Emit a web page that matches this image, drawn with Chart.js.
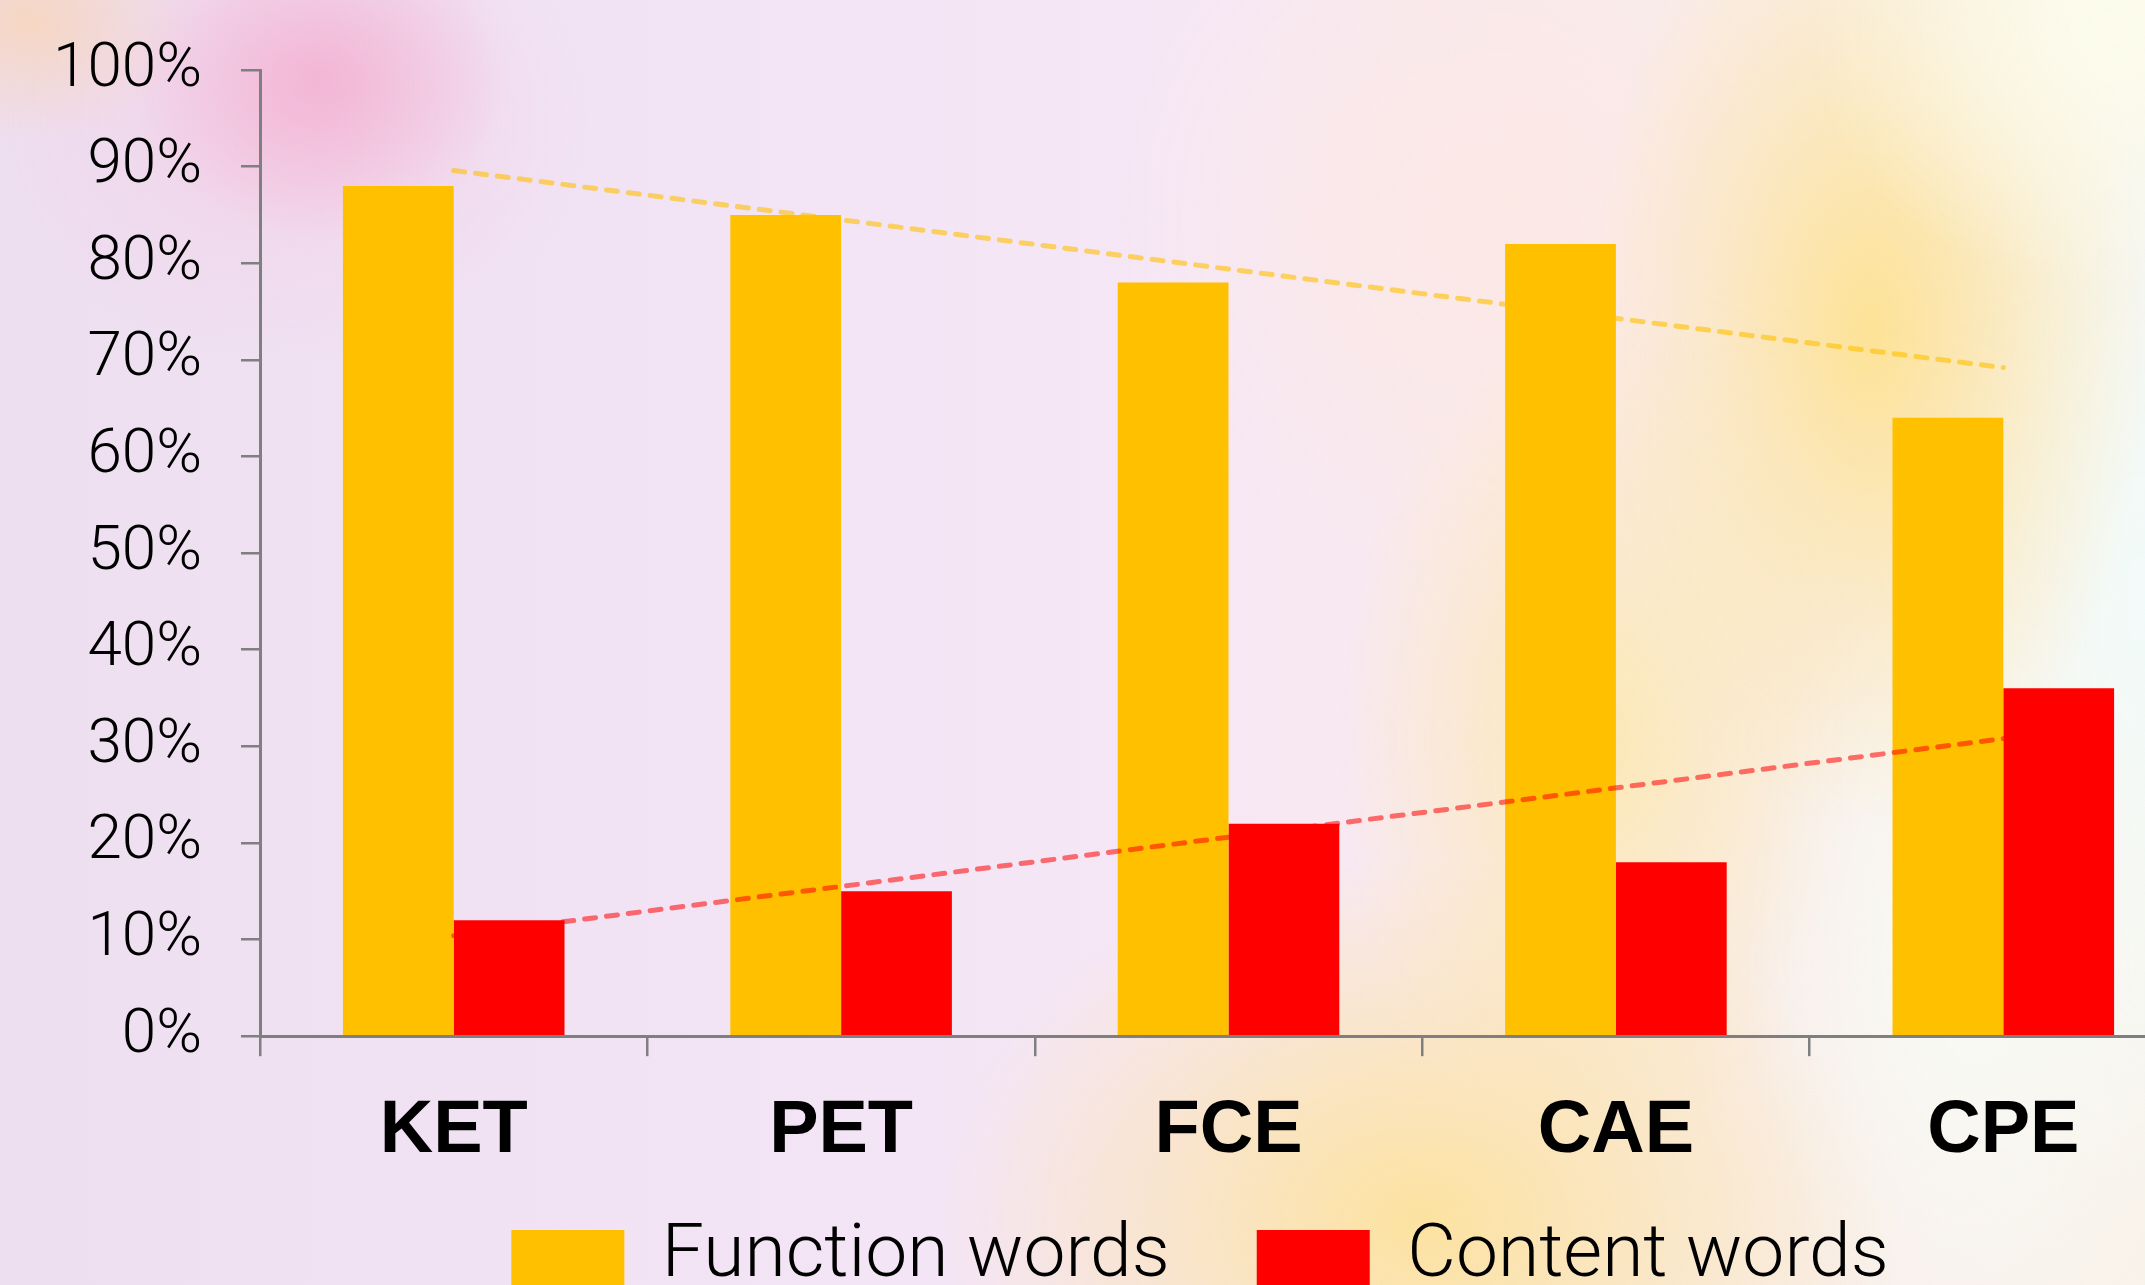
<!DOCTYPE html>
<html>
<head>
<meta charset="utf-8">
<script src="https://cdn.jsdelivr.net/npm/chart.js@4.4.0/dist/chart.umd.min.js"></script>
<style>
html, body { margin: 0; padding: 0; width: 2145px; height: 1285px; overflow: hidden; }
body {
  background:
    radial-gradient(ellipse 160px 120px at 30px 20px, rgba(246,214,192,0.95), rgba(246,214,192,0) 100%),
    radial-gradient(ellipse 190px 160px at 320px 80px, rgba(243,178,211,0.9), rgba(243,178,211,0) 100%),
    radial-gradient(ellipse 300px 240px at 290px 120px, rgba(245,200,225,0.55), rgba(245,200,225,0) 100%),
    radial-gradient(ellipse 300px 260px at 2110px 30px, rgba(252,252,236,1), rgba(252,252,236,0) 100%),
    radial-gradient(ellipse 280px 500px at 1870px 330px, rgba(253,226,150,1), rgba(253,226,150,0.35) 60%, rgba(253,226,150,0) 100%),
    radial-gradient(ellipse 230px 420px at 1975px 960px, rgba(248,251,246,1), rgba(248,251,246,0) 100%),
    radial-gradient(ellipse 480px 360px at 1420px 1220px, rgba(252,226,160,1), rgba(252,226,160,0) 100%),
    radial-gradient(ellipse 260px 420px at 1600px 740px, rgba(252,232,178,0.95), rgba(252,232,178,0) 100%),
    radial-gradient(ellipse 200px 600px at 2140px 600px, rgba(242,251,250,1), rgba(242,251,250,0) 100%),
    radial-gradient(ellipse 380px 380px at 1500px 220px, rgba(252,232,228,0.9), rgba(252,232,228,0) 100%),
    linear-gradient(90deg, #eddef0 0%, #f2e4f5 35%, #f6e7f5 55%, #f9eaee 70%, #f8f3ea 100%);
}
#wrap { position: absolute; left: 0; top: 0; width: 2400px; height: 1379px; }
</style>
</head>
<body>
<div id="wrap"><canvas id="c"></canvas></div>
<script>
const categories = ['KET', 'PET', 'FCE', 'CAE', 'CPE'];
const functionWords = [88, 85, 78, 82, 64];
const contentWords = [12, 15, 22, 18, 36];
const functionTrend = [89.6, null, null, null, 69.2];
const contentTrend = [10.4, null, null, null, 30.8];
const seriesNames = ['Function words', 'Content words'];

const axisGray = '#7f7f7f';

// shift the legend after layout so it sits where the original one does
const legendShift = {
  id: 'legendShift',
  afterLayout(chart) {
    const lg = chart.legend;
    if (!lg) return;
    const dx = 1200 - (lg.left + lg.right) / 2;
    lg.left += dx; lg.right += dx;
    lg.top -= 74; lg.bottom -= 74;
  }
};

new Chart(document.getElementById('c'), {
  type: 'bar',
  data: {
    labels: categories,
    datasets: [
      {
        type: 'line', label: 'Function trend', data: functionTrend, spanGaps: true,
        borderColor: 'rgba(255,192,0,0.6)', borderWidth: 5, borderDash: [11, 11],
        borderCapStyle: 'round', pointRadius: 0, fill: false, order: 0
      },
      {
        type: 'line', label: 'Content trend', data: contentTrend, spanGaps: true,
        borderColor: 'rgba(255,0,0,0.55)', borderWidth: 5, borderDash: [11, 11],
        borderCapStyle: 'round', pointRadius: 0, fill: false, order: 0
      },
      {
        label: seriesNames[0], data: functionWords, backgroundColor: '#FFC000',
        categoryPercentage: 0.572, barPercentage: 1.0, order: 1
      },
      {
        label: seriesNames[1], data: contentWords, backgroundColor: '#FF0000',
        categoryPercentage: 0.572, barPercentage: 1.0, order: 1
      }
    ]
  },
  plugins: [legendShift],
  options: {
    responsive: true,
    maintainAspectRatio: false,
    animation: false,
    layout: { padding: { top: 70, right: 203, bottom: 0, left: 0 } },
    plugins: {
      tooltip: { enabled: false },
      legend: {
        position: 'bottom',
        labels: {
          boxWidth: 113, boxHeight: 55, padding: 87, color: '#000',
          font: { family: 'Roboto', weight: 300, size: 75 },
          filter: (item, data) => data.datasets[item.datasetIndex].type !== 'line'
        }
      }
    },
    scales: {
      x: {
        grid: { display: true, drawOnChartArea: false, drawTicks: true, tickLength: 20, color: axisGray, lineWidth: 2.5, offset: true },
        border: { display: true, color: axisGray, width: 3 },
        ticks: { color: '#000', padding: 31, font: { family: 'Liberation Sans', weight: 'bold', size: 74 } },
        afterFit: (s) => { s.paddingLeft = 0; s.paddingRight = 0; }
      },
      y: {
        min: 0, max: 100,
        grid: { display: true, drawOnChartArea: false, drawTicks: true, tickLength: 19, color: axisGray, lineWidth: 2.5 },
        border: { display: true, color: axisGray, width: 3 },
        ticks: { stepSize: 10, color: '#000', padding: 39, font: { family: 'Roboto', weight: 300, size: 62 },
                 callback: (v) => v + '%' },
        afterFit: (s) => { s.width = 260; s.paddingTop = 0; }
      }
    }
  }
});
</script>
</body>
</html>
